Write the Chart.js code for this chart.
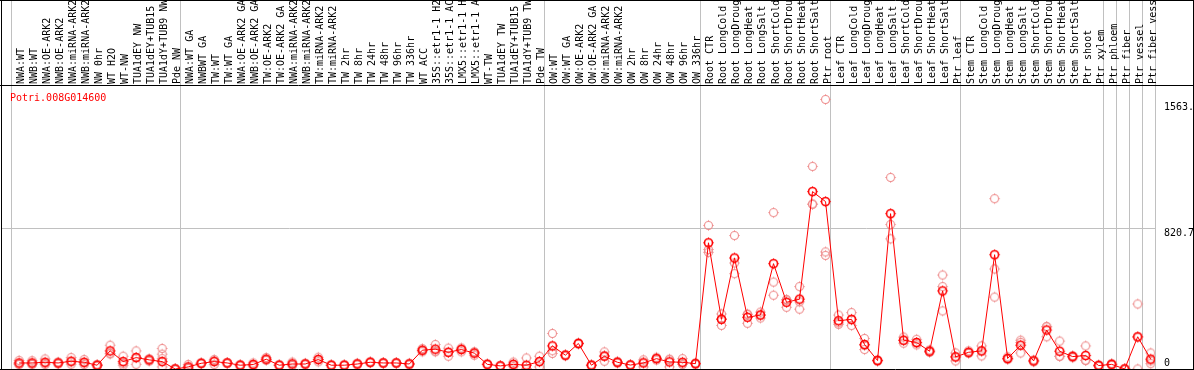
<!DOCTYPE html>
<html><head><meta charset="utf-8">
<script src="https://cdn.jsdelivr.net/npm/chart.js@4/dist/chart.umd.min.js"></script>
<style>html,body{margin:0;padding:0;background:#fff;overflow:hidden}#wrap{width:1194px;height:370px;position:relative}</style>
</head><body><div id="wrap"><canvas id="c" width="1194" height="370"></canvas></div>
<script>
const geneName = 'Potri.008G014600';
const categories = [
 'NWA:WT','NWB:WT','NWA:OE-ARK2','NWB:OE-ARK2','NWA:miRNA-ARK2','NWB:miRNA-ARK2','NW 0hr','WT H2O','WT-NW','TUA1dEY NW','TUA1dEY+TUB15 NW','TUA1dY+TUB9 NW','Pde NW',
 'NWA:WT GA','NWBWT GA','TW:WT','TW:WT GA','NWA:OE-ARK2 GA','NWB:OE-ARK2 GA','TW:OE-ARK2','TW:OE-ARK2 GA','NWA:miRNA-ARK2','NWB:miRNA-ARK2','TW:miRNA-ARK2','TW:miRNA-ARK2','TW 2hr','TW 8hr','TW 24hr','TW 48hr','TW 96hr','TW 336hr','WT ACC','35S::etr1-1 H2O','35S::etr1-1 ACC','LMX5::etr1-1 H2O','LMX5::etr1-1 ACC','WT-TW','TUA1dEY TW','TUA1dEY+TUB15 TW','TUA1dY+TUB9 TW','Pde TW',
 'OW:WT','OW:WT GA','OW:OE-ARK2','OW:OE-ARK2 GA','OW:miRNA-ARK2','OW:miRNA-ARK2','OW 2hr','OW 8hr','OW 24hr','OW 48hr','OW 96hr','OW 336hr',
 'Root CTR','Root LongCold','Root LongDrought','Root LongHeat','Root LongSalt','Root ShortCold','Root ShortDrought','Root ShortHeat','Root ShortSalt','Ptr root',
 'Leaf CTR','Leaf LongCold','Leaf LongDrought','Leaf LongHeat','Leaf LongSalt','Leaf ShortCold','Leaf ShortDrought','Leaf ShortHeat','Leaf ShortSalt','Ptr leaf',
 'Stem CTR','Stem LongCold','Stem LongDrought','Stem LongHeat','Stem LongSalt','Stem ShortCold','Stem ShortDrought','Stem ShortHeat','Stem ShortSalt','Ptr shoot','Ptr xylem',
 'Ptr phloem','Ptr fiber','Ptr vessel','Ptr fiber vessel'
];
const groupStarts = [0,13,41,53,63,73,84,85,86,87];
const meanValues = [
 35,35,39,35,45,39,22,105,43,66,53,43,0,
 12,33,43,35,22,26,57,22,29,29,55,22,22,29,39,35,35,29,109,115,97,113,92,27,18,27,22,43,
 134,80,148,22,74,39,23,35,60,41,39,31,
 732,288,644,300,313,611,387,405,1029,971,
 280,288,142,49,901,167,154,103,453,70,
 97,105,663,61,138,47,226,103,72,78,20,
 27,0,187,57
];
const rep1 = [
 50,48,58,40,66,55,26,138,74,105,60,119,0,
 26,36,55,38,26,35,66,25,40,33,68,25,25,33,42,38,38,33,118,142,121,122,100,30,20,40,64,74,
 206,84,152,25,99,44,26,40,68,54,60,35,
 833,319,774,318,330,907,400,478,1175,1563.4,
 313,327,177,49,1111,185,172,110,545,93,
 105,134,988,70,167,52,245,162,78,134,25,
 30,0,377,93
];
const rep2 = [
 26,27,26,30,28,26,18,90,22,27,46,86,0,
 5,30,26,32,18,18,50,20,20,26,42,20,20,25,36,32,32,25,100,100,74,100,80,24,16,14,2,12,
 90,76,144,18,45,34,20,12,52,12,30,27,
 693,253,615,265,296,504,358,347,955,679,
 259,252,113,45,838,150,140,96,478,47,
 90,76,580,55,93,42,187,74,66,51,16,
 22,0,0,31
];
const rep3 = [
 29,30,33,35,41,36,22,87,33,66,53,12,0,
 5,33,48,35,22,25,55,22,29,29,55,22,22,29,39,35,35,29,109,103,97,117,96,27,18,27,0,43,
 106,80,148,22,78,39,23,53,60,57,27,31,
 677,292,553,317,313,428,403,390,957,659,
 268,285,136,53,755,166,150,103,337,70,
 96,105,417,58,154,47,246,73,72,49,19,
 29,0,184,47
];
const rep4 = categories.map((c,i)=> i===11 ? 60 : null);
const axisMax = 1641.4;
const midTick = 820.7;
const tickValues = [1563.4, 820.7, 0];
const tickLabels = ['1563.', '820.7', '0'];

const FONT = '10px "DejaVu Sans Mono", monospace';
const RED = '#ff0000';
const PINK = 'rgb(238,140,140)';

function marker(color, lw, r) {
  const s = 13, c = document.createElement('canvas');
  c.width = s; c.height = s;
  const g = c.getContext('2d');
  const m = s / 2;
  g.strokeStyle = color; g.lineWidth = lw;
  g.beginPath(); g.arc(m, m, r, 0, Math.PI*2); g.stroke();
  g.lineWidth = 1;
  g.beginPath();
  g.moveTo(m, m - r - 1.2); g.lineTo(m, m - r + 0.5);
  g.moveTo(m, m + r - 0.5); g.lineTo(m, m + r + 1.2);
  g.moveTo(m - r - 1.2, m); g.lineTo(m - r + 0.5, m);
  g.moveTo(m + r - 0.5, m); g.lineTo(m + r + 1.2, m);
  g.stroke();
  return c;
}
const meanMark = marker(RED, 1.6, 4);
const repMark = marker(PINK, 1.1, 4);

const toXY = arr => arr.map((v,i)=> v===null ? null : {x:i, y:v}).filter(p=>p);

const frame = {
  id: 'frame',
  beforeDraw(chart) {
    const ctx = chart.ctx; ctx.save(); ctx.fillStyle = '#fff'; ctx.fillRect(0,0,chart.width,chart.height); ctx.restore();
  },
  beforeDatasetsDraw(chart) {
    const {ctx, scales:{x, y}, chartArea:a} = chart;
    ctx.save(); ctx.strokeStyle = '#c0c0c0'; ctx.lineWidth = 1;
    const bounds = groupStarts.map(s=>s-0.66).concat([categories.length-0.66]);
    bounds.forEach(b=>{
      const px = Math.round(x.getPixelForValue(b)) + 0.5;
      ctx.beginPath(); ctx.moveTo(px, 0); ctx.lineTo(px, a.bottom); ctx.stroke();
    });
    const gy = Math.round(y.getPixelForValue(midTick)) + 0.5;
    ctx.beginPath(); ctx.moveTo(1, gy); ctx.lineTo(a.right, gy); ctx.stroke();
    ctx.restore();
  },
  afterDraw(chart) {
    const {ctx, scales:{x, y}, chartArea:a} = chart;
    ctx.save();
    ctx.font = FONT;
    ctx.save();
    ctx.beginPath(); ctx.rect(0, 1, chart.width, 84); ctx.clip();
    ctx.fillStyle = '#000'; ctx.textAlign = 'left'; ctx.textBaseline = 'alphabetic';
    categories.forEach((c,i)=>{
      const px = Math.round(x.getPixelForValue(i));
      ctx.save(); ctx.translate(px + 5, 84); ctx.rotate(-Math.PI/2); ctx.fillText(c, 0, 0); ctx.restore();
    });
    ctx.restore();
    ctx.fillStyle = RED; ctx.textAlign = 'left'; ctx.textBaseline = 'alphabetic';
    ctx.fillText(geneName, 10, 101);
    ctx.fillStyle = '#000';
    const offs = [11, 8, -3.5];
    tickValues.forEach((v,k)=>{
      ctx.fillText(tickLabels[k], a.right + 9, Math.round(y.getPixelForValue(v) + offs[k]));
    });
    ctx.strokeStyle = '#000'; ctx.lineWidth = 1;
    ctx.beginPath();
    ctx.moveTo(0, 0.5); ctx.lineTo(chart.width, 0.5);
    ctx.moveTo(0, 85.5); ctx.lineTo(chart.width, 85.5);
    ctx.moveTo(0, 369.5); ctx.lineTo(chart.width, 369.5);
    ctx.moveTo(1.5, 0); ctx.lineTo(1.5, chart.height);
    ctx.moveTo(1193.5, 0); ctx.lineTo(1193.5, chart.height);
    ctx.stroke();
    ctx.restore();
  }
};

const repDs = (arr) => ({
  data: toXY(arr), showLine: false, pointStyle: repMark, pointRadius: 6, pointHoverRadius: 6,
  borderColor: PINK, backgroundColor: 'transparent'
});

new Chart(document.getElementById('c'), {
  type: 'scatter',
  data: {
    datasets: [
      { data: toXY(meanValues), showLine: true, borderColor: RED, borderWidth: 1, pointStyle: meanMark,
        pointRadius: 6, pointHoverRadius: 6, backgroundColor: 'transparent', tension: 0 },
      repDs(rep1), repDs(rep2), repDs(rep3), repDs(rep4)
    ]
  },
  options: {
    responsive: false, animation: false, devicePixelRatio: 1,
    layout: { autoPadding: false, padding: { left: 10, right: 39, top: 86, bottom: 1 } },
    plugins: { legend: { display: false }, tooltip: { enabled: false } },
    scales: {
      x: { type: 'linear', display: false, min: -0.7, max: 87.33 },
      y: { type: 'linear', display: false, min: 0, max: axisMax }
    }
  },
  plugins: [frame]
});
</script>
</body></html>
